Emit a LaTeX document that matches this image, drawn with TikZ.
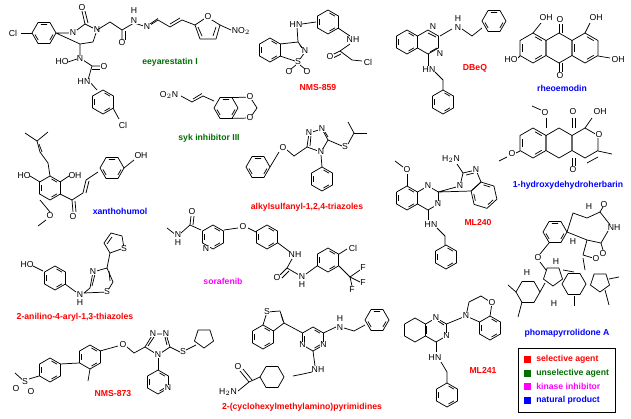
\documentclass[tikz,border=0pt]{standalone}
\usepackage{fontspec}
\setmainfont{Liberation Sans}
\begin{document}
\begin{tikzpicture}[x=0.75pt,y=-0.75pt,
 bond/.style={line width=0.55pt,line join=round},
 atom/.style={fill=white,inner sep=0.3pt,font=\fontsize{6.5}{7}\selectfont},
 lab/.style={font=\fontsize{6.5}{7}\selectfont\bfseries,inner sep=0pt}]
\useasboundingbox (0,0) rectangle (631,418);
\definecolor{cR}{RGB}{255,0,0}\definecolor{cG}{RGB}{0,110,0}
\definecolor{cM}{RGB}{255,0,255}\definecolor{cB}{RGB}{0,0,255}
\newcommand\hx[4][12]{\draw[bond,shift={(#2,#3)},rotate=#4] (30:#1)--(90:#1)--(150:#1)--(210:#1)--(270:#1)--(330:#1)--cycle;}
\newcommand\ar[4][12]{\hx[#1]{#2}{#3}{#4}\foreach \k in {0,120,240}{\draw[bond,shift={(#2,#3)},rotate=#4] ({\k+40}:{0.76*#1})--({\k+80}:{0.76*#1});}}
\newcommand\pn[4][9]{\draw[bond,shift={(#2,#3)},rotate=#4] (90:#1)--(162:#1)--(234:#1)--(306:#1)--(18:#1)--cycle;}
\newcommand\at[3]{\node[atom] at (#1,#2) {#3};}
% ---------- eeyarestatin I
\ar{44}{33}{30}\draw[bond](32,33)--(21,33);\at{13}{33}{Cl}
\draw[bond](56,33)--(73,33)--(85,24)--(97,30)--(93,42)--(80,44)--cycle;
\draw[bond](85,24)--(82,11);\draw[bond](88,23)--(85,11);\at{82}{8}{O}\at{73}{33}{N}\at{97}{30}{N}
\draw[bond](97,30)--(110,22)--(122,30)--(122,40);\draw[bond](125,31)--(125,40);\at{122}{43}{O}
\draw[bond](122,30)--(134,23)--(147,27)--(158,20)--(170,27)--(182,20)--(195,25);
\draw[bond](150,24)--(158,18.5);\draw[bond](170,24)--(180,18);
\at{134}{21}{N}\at{134}{11}{H}\at{147}{27}{N}
\draw[bond](195,25)--(207,17)--(220,25)--(216,39)--(200,39)--cycle;\draw[bond](198,27)--(202,36);\draw[bond](213,36)--(216,27);\at{208}{17}{O}
\draw[bond](220,25)--(231,30);\at{241}{31}{NO$_2$}
\draw[bond](80,44)--(80,58)--(92,66)--(102,66);\draw[bond](92,69)--(102,69);\at{80}{59}{N}\at{62}{62}{HO}\draw[bond](68,62)--(77,59);\at{104}{67}{O}
\draw[bond](92,66)--(88,80)--(97,90);\at{84}{82}{HN}
\ar{103}{102}{0}\draw[bond](113,108)--(119,119);\at{123}{125}{Cl}
\node[lab,cG] at (170,62){eeyarestatin I};
% ---------- syk inhibitor III
\at{169}{95}{O$_2$N}\draw[bond](181,96)--(192,102)--(203,96)--(214,101);\draw[bond](193,99)--(202,93.5);
\ar{226}{108}{30}\draw[bond](232,97.6)--(250,97)--(257,108)--(250,118)--(232,118.4);
\at{250}{97}{O}\at{250}{118}{O}
\node[lab,cG] at (209,138){syk inhibitor III};
% ---------- xanthohumol
\draw[bond](25,133)--(37,141)--(48,132);\draw[bond](37,141)--(40,152)--(48,163)--(50,176);\draw[bond](39,144)--(42,152);
\ar{50}{188}{0}\at{24}{176}{HO}\draw[bond](30,176)--(40,182);\at{75}{176}{OH}\draw[bond](60,182)--(69,176);
\draw[bond](40,200)--(50,212);\at{50}{216}{O}\draw[bond](46,220)--(38,226);
\draw[bond](60,194)--(72,200)--(73,212);\draw[bond](75,201)--(76,212);\at{73}{217}{O}
\draw[bond](72,200)--(83,193)--(86,180)--(98,172);\draw[bond](86,193)--(89,181);\ar{112}{168}{30}\draw[bond](124,168)--(134,160);\at{141}{156}{OH}
\node[lab,cB] at (120,211){xanthohumol};
% ---------- NMS-859
\ar{270}{50}{0}\draw[bond](280,44)--(298,42)--(305,52)--(298,62)--(280,56);\draw[bond](300,45)--(304,51);
\at{305}{51}{N}\at{298}{62}{S}\at{289}{72}{O}\at{307}{72}{O}\draw[bond](296,65)--(291,69);\draw[bond](300,65)--(305,69);
\draw[bond](298,42)--(297,27);\at{296}{25}{HN}\draw[bond](302,24)--(316,22);
\ar{328}{22}{0}\draw[bond](338,28)--(350,36);\at{353}{40}{NH}\draw[bond](350,44)--(340,51)--(332,55);\draw[bond](341,54)--(333,58);\at{330}{57}{O}
\draw[bond](340,51)--(352,60)--(362,61);\at{368}{62}{Cl}
\node[lab,cR] at (318,88){NMS-859};
% ---------- alkylsulfanyl triazoles
\ar{258}{167}{30}\draw[bond](270,167)--(279,152);\at{283}{148}{O}\draw[bond](287,150)--(294,156)--(307,147);
\draw[bond](307,147)--(309,133)--(322,129)--(328,140)--(321,152)--cycle;\draw[bond](310,146)--(311,135);\draw[bond](325,132)--(328,137);
\at{309}{133}{N}\at{322}{129}{N}\at{321}{152}{N}
\draw[bond](328,140)--(342,146);\at{345}{147}{S}\draw[bond](348,144)--(354,133)--(348,122);\draw[bond](354,133)--(367,133);
\draw[bond](321,155)--(322,167);\ar{322}{179}{0}
\node[lab,cR] at (307,207){alkylsulfanyl-1,2,4-triazoles};
% ---------- DBeQ
\ar{407}{42}{0}\hx{428}{42}{0}\draw[bond](428,33)--(436,37);\draw[bond](437,48)--(430,52);\at{433}{27}{N}\at{440}{54}{N}
\draw[bond](440,36)--(452,29);\at{458}{28}{N}\at{458}{19}{H}\draw[bond](462,29)--(472,36)--(482,28);\ar{494}{21}{30}
\draw[bond](428,54)--(428,66);\at{429}{70}{HN}\draw[bond](435,72)--(443,80)--(443,90);\ar{443}{102}{0}
\node[lab,cR] at (475,68){DBeQ};
% ---------- rheoemodin
\ar[15]{533}{48}{0}\hx[15]{559}{48}{0}\ar[15]{585}{48}{0}
\draw[bond](559,33)--(559,24);\draw[bond](562,33)--(562,24);\at{560}{20}{O}\draw[bond](559,63)--(559,72);\draw[bond](562,63)--(562,72);\at{560}{76}{O}
\draw[bond](533,33)--(541,23);\at{546}{18}{OH}\draw[bond](585,33)--(590,23);\at{596}{18}{OH}
\draw[bond](520,56)--(518,58);\at{511}{60}{HO}\draw[bond](598,56)--(610,58);\at{618}{60}{OH}
\node[lab,cB] at (562,88){rheoemodin};
% ---------- 1-hydroxydehydroherbarin
\ar[15]{533}{143}{0}\hx[15]{559}{143}{0}\hx[15]{585}{143}{0}\draw[bond](587,163)--(598,157);
\draw[bond](546,128)--(546,118);\at{545}{113}{O}\draw[bond](541,110)--(532,106);
\draw[bond](520,151)--(516,153);\at{512}{154}{O}\draw[bond](507,157)--(499,161);
\draw[bond](572,128)--(572,118);\draw[bond](575,128)--(575,118);\at{573}{112}{O}\draw[bond](572,158)--(572,166);\draw[bond](575,158)--(575,166);\at{573}{170}{O}
\draw[bond](585,128)--(592,118);\at{600}{112}{OH}\at{599}{135}{O}\draw[bond](598,151)--(612,154);
\node[lab,cB] at (568,185){1-hydroxydehydroherbarin};
% ---------- ML240
\ar{407}{198}{0}\hx{428}{198}{0}\draw[bond](407,186)--(407,174);\at{407}{170}{O}\draw[bond](403,167)--(395,161);
\at{428}{186}{N}\at{438}{204}{N}
\draw[bond](438,192)--(460,186)--(463,173)--(476,170)--(481,182)--(471,191)--cycle;\draw[bond](466,175)--(474,173);
\at{460}{186}{N}\at{476}{170}{N}\draw[bond](463,173)--(457,164);\at{451}{159}{H$_2$N}
\ar[13.5]{484}{195.2}{12.8}
\draw[bond](428,210)--(428,220);\at{431}{225}{HN}\draw[bond](437,228)--(445,236)--(445,245);\ar{446}{257}{0}
\node[lab,cR] at (478,223){ML240};
% ---------- phomapyrrolidone A
\ar{555}{232}{30}\draw[bond](567,232)--(573,213)--(587,218)--(600,212)--(611,226)--(601,243)--(587,240)--cycle;
\at{589}{207}{H}\at{604}{205}{O}\at{614}{228}{NH}\at{603}{254}{O}\at{573}{242}{H}
\draw[bond](600,212)--(603,207);\draw[bond](601,243)--(603,250);
\draw[bond](587,240)--(583,255)--(593,258);\at{596}{259}{O}
\draw[bond](549,243)--(540,254);\at{538}{258}{O}\draw[bond](540,262)--(546,270);
\hx{528}{292}{30}\pn[10]{553}{276}{0}\hx{574}{284}{30}\pn[10]{600}{282}{0}
\draw[bond](540,292)--(545,283);\draw[bond](563,270)--(574,272);
\draw[bond](609,279)--(619,277);\draw[bond](605,290)--(609,305);\draw[bond](574,296)--(574,306);
\draw[bond](516,292)--(508,285);\draw[bond](522,302)--(518,317);\draw[bond](583,258)--(585,270);
\at{527}{273}{H}\at{556}{262}{H}\at{554}{304}{H}
\node[lab,cB] at (567,333){phomapyrrolidone A};
% ---------- sorafenib
\draw[bond](167,228)--(176,235);\at{178}{235}{N}\at{178}{243}{H}\draw[bond](181,233)--(190,225)--(191,216);\draw[bond](193,225)--(194,216);\at{192}{212}{O}
\draw[bond](190,225)--(201,230);\ar{213}{237}{0}\at{206}{249}{N}
\draw[bond](224,230)--(238,228);\at{243}{227}{O}\draw[bond](248,228)--(256,232);
\ar{267}{237}{0}\draw[bond](278,243)--(290,252);\at{295}{255}{NH}\draw[bond](292,259)--(287,268)--(280,275);\draw[bond](289,271)--(282,278);\at{277}{278}{O}
\draw[bond](287,268)--(299,275);\at{302}{277}{N}\at{302}{285}{H}\draw[bond](306,274)--(317,266);
\ar{328}{260}{0}\draw[bond](339,254)--(347,249);\at{353}{248}{Cl}\draw[bond](339,266)--(350,277);
\draw[bond](350,277)--(360,270);\at{363}{268}{F}\draw[bond](350,277)--(360,282);\at{363}{283}{F}\draw[bond](350,277)--(352,286);\at{352}{290}{F}
\node[lab,cM] at (223,281){sorafenib};
% ---------- thiazoles
\at{27}{265}{HO}\draw[bond](33,266)--(43,271);\ar{55}{278}{0}\draw[bond](65,284)--(76,292);
\at{80}{295}{N}\at{80}{303}{H}\draw[bond](84,293)--(90,288)--(93,272)--(107,268)--(113,282)--(107,292)--cycle;\draw[bond](92,286)--(95,274);\draw[bond](109,271)--(110,281);
\at{93}{272}{N}\at{107}{292}{S}\draw[bond](107,268)--(110,253);
\draw[bond](110,253)--(104,243)--(111,233)--(122,236)--(124,248)--cycle;\draw[bond](107,244)--(112,237);\at{124}{249}{S}
\node[lab,cR] at (75,317){2-anilino-4-aryl-1,3-thiazoles};
% ---------- NMS-873
\draw[bond](15,373)--(25,382);\at{25}{382}{S}\at{16}{389}{O}\at{31}{392}{O}\draw[bond](29,379)--(39,376);
\ar{50}{370}{0}\draw[bond](60,364)--(79,363);\ar{90}{357}{0}\draw[bond](90,369)--(88,381);
\draw[bond](100,351)--(118,346);\at{123}{345}{O}\draw[bond](127,347)--(134,353)--(145,347);
\draw[bond](145,347)--(153,334)--(166,334)--(170,347)--(158,355)--cycle;\draw[bond](148,346)--(154,337);\draw[bond](165,337)--(167,345);
\at{153}{334}{N}\at{166}{334}{N}\at{158}{355}{N}
\draw[bond](170,347)--(180,352);\at{183}{352}{S}\draw[bond](186,350)--(196,345);\pn[10]{204}{338}{0}
\draw[bond](158,358)--(158,370);\ar{158}{382}{0}\at{168}{388}{N}
\node[lab,cR] at (113,394){NMS-873};
% ---------- pyrimidines
\ar{263}{337}{0}\draw[bond](263,325)--(267,312)--(280,311)--(284,323)--(273.4,331);\draw[bond](281,314)--(283,321);\at{267}{312}{S}
\draw[bond](284,323)--(302.6,333);\ar{313}{339}{0}\at{302.6}{345}{N}\at{323.4}{345}{N}
\draw[bond](323.4,333)--(336,327);\at{340}{328}{N}\at{340}{319}{H}\draw[bond](344,328)--(354,331)--(365,325);\ar{377}{320}{30}
\draw[bond](313,351)--(315,366);\at{318}{370}{NH}\draw[bond](312,372)--(303,374)--(293,376);
\hx{272}{377}{30}\draw[bond](260,377)--(249,382)--(240,371);\draw[bond](252,380)--(243,369);\at{238}{367}{O}\draw[bond](249,382)--(238,391);\at{228}{392}{H$_2$N}
\node[lab,cR] at (302,407){2-(cyclohexylmethylamino)pyrimidines};
% ---------- ML241
\hx{415}{330}{0}\hx{436}{330}{0}\draw[bond](438,321)--(444,325);\draw[bond](426,334)--(426,326);
\at{436}{318}{N}\at{446.4}{336}{N}
\draw[bond](446.4,324)--(466,316);\ar{490}{328}{0}
\draw[bond](479.6,322)--(466,316)--(469,302)--(481,296)--(492,303)--(490,316);
\at{466}{316}{N}\at{492}{303}{O}
\draw[bond](436,342)--(436,352);\at{435}{358}{HN}\draw[bond](441,362)--(447,372)--(447,383);\ar{447}{395}{0}
\node[lab,cR] at (483,370){ML241};
% ---------- legend
\draw[line width=0.6pt,fill=white] (518,348) rectangle (615,412);
\foreach \c/\t/\yy in {cR/selective agent/359,cG/unselective agent/373,cM/kinase inhibitor/386,cB/natural product/400}{
 \fill[\c] (524,\yy-3.5) rectangle (531,\yy+3.5);
 \node[lab,\c,anchor=west] at (536,\yy){\t};}
\end{tikzpicture}
\end{document}
